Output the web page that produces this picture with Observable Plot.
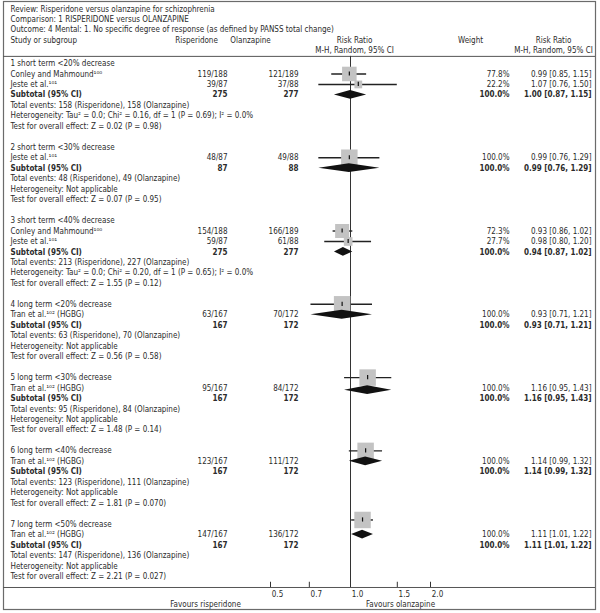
<!DOCTYPE html>
<html>
<head>
<meta charset="utf-8">
<script src="https://cdn.jsdelivr.net/npm/d3@7"></script>
<script src="https://cdn.jsdelivr.net/npm/@observablehq/plot@0.6"></script>
<style>
  html, body { margin: 0; padding: 0; background: #fff; }
  #chart { width: 600px; height: 613px; }
</style>
</head>
<body>
<div id="chart"></div>
<script>
// ---------------- data ----------------
const titleLines = [
  "Review: Risperidone versus olanzapine for schizophrenia",
  "Comparison: 1 RISPERIDONE versus OLANZAPINE",
  "Outcome: 4 Mental: 1. No specific degree of response (as defined by PANSS total change)"
];
const groupNames = [
  "1 short term <20% decrease",
  "2 short term <30% decrease",
  "3 short term <40% decrease",
  "4 long term <20% decrease",
  "5 long term <30% decrease",
  "6 long term <40% decrease",
  "7 long term <50% decrease"
];
const studyGroup   = [0, 0, 1, 2, 2, 3, 4, 5, 6];
const studyNames   = ["Conley and Mahmound¹⁰⁰", "Jeste et al.¹⁰¹", "Jeste et al.¹⁰¹", "Conley and Mahmound¹⁰⁰", "Jeste et al.¹⁰¹",
                      "Tran et al.¹⁰² (HGBG)", "Tran et al.¹⁰² (HGBG)", "Tran et al.¹⁰² (HGBG)", "Tran et al.¹⁰² (HGBG)"];
const rispEvents   = [119, 39, 48, 154, 59, 63, 95, 123, 147];
const rispTotal    = [188, 87, 87, 188, 87, 167, 167, 167, 167];
const olanEvents   = [121, 37, 49, 166, 61, 70, 84, 111, 136];
const olanTotal    = [189, 88, 88, 189, 88, 172, 172, 172, 172];
const studyWeight  = [77.8, 22.2, 100, 72.3, 27.7, 100, 100, 100, 100];
const studyRR      = [0.99, 1.07, 0.99, 0.93, 0.98, 0.93, 1.16, 1.14, 1.11];
const studyLo      = [0.85, 0.76, 0.76, 0.86, 0.80, 0.71, 0.95, 0.99, 1.01];
const studyHi      = [1.15, 1.50, 1.29, 1.02, 1.20, 1.21, 1.43, 1.32, 1.22];

const subRR        = [1.00, 0.99, 0.94, 0.93, 1.16, 1.14, 1.11];
const subLo        = [0.87, 0.76, 0.87, 0.71, 0.95, 0.99, 1.01];
const subHi        = [1.15, 1.29, 1.02, 1.21, 1.43, 1.32, 1.22];
const subRispN     = [275, 87, 275, 167, 167, 167, 167];
const subOlanN     = [277, 88, 277, 172, 172, 172, 172];
const subRispEv    = [158, 48, 213, 63, 95, 123, 147];
const subOlanEv    = [158, 49, 227, 70, 84, 111, 136];
const heterogeneity = [
  "Heterogeneity: Tau² = 0.0; Chi² = 0.16, df = 1 (P = 0.69); I² = 0.0%",
  "Heterogeneity: Not applicable",
  "Heterogeneity: Tau² = 0.0; Chi² = 0.20, df = 1 (P = 0.65); I² = 0.0%",
  "Heterogeneity: Not applicable",
  "Heterogeneity: Not applicable",
  "Heterogeneity: Not applicable",
  "Heterogeneity: Not applicable"
];
const overallZ = ["0.02", "0.07", "1.55", "0.56", "1.48", "1.81", "2.21"];
const overallP = ["0.98", "0.95", "0.12", "0.58", "0.14", "0.070", "0.027"];

const axisTicks = [0.5, 0.7, 1.0, 1.5, 2.0];
const axisTickLabels = ["0.5", "0.7", "1.0", "1.5", "2.0"];
const favours = ["Favours risperidone", "Favours olanzapine"];

// ---------------- layout (not data) ----------------
const FL = 3; // frame left (marginLeft)
const col = {label: 10, risp: 227, olan: 298, weight: 509, rr: 591,
             rispHead: 196, olanHead: 250, rrHead: 354, wHead: 470, rr2Head: 553,
             favL: 205, favR: 400};
const dxOf = px => px - FL;
// rows drawn by the reference for the marks are displaced in the lower groups
const markShift = [0, 0, 0, -1, -1, -1, -1.4];
const diamondShift = [0, 0, 0, -1, -0.8, -1, -1];

// ---------------- build rows ----------------
const fmtCI = (e, l, h) => `${e.toFixed(2)} [${l.toFixed(2)}, ${h.toFixed(2)}]`;
const rows = [];
const studyMarks = [];
const diamondPts = [];
let r = 0;
groupNames.forEach((g, gi) => {
  rows.push({row: r++, label: g, bold: false});
  studyGroup.forEach((sg, si) => {
    if (sg !== gi) return;
    rows.push({row: r, label: studyNames[si], bold: false,
      risp: `${rispEvents[si]}/${rispTotal[si]}`, olan: `${olanEvents[si]}/${olanTotal[si]}`,
      weight: `${studyWeight[si].toFixed(1)}%`, rr: fmtCI(studyRR[si], studyLo[si], studyHi[si])});
    studyMarks.push({row: r + markShift[gi], rr: studyRR[si], lo: studyLo[si], hi: studyHi[si], w: studyWeight[si]});
    r++;
  });
  rows.push({row: r, label: "Subtotal (95% CI)", bold: true,
    risp: String(subRispN[gi]), olan: String(subOlanN[gi]), weight: "100.0%",
    rr: fmtCI(subRR[gi], subLo[gi], subHi[gi])});
  const dr = r + diamondShift[gi];
  const h = 0.42;
  diamondPts.push({g: gi, x: subLo[gi], y1: dr, y2: dr});
  diamondPts.push({g: gi, x: subRR[gi], y1: dr - h, y2: dr + h});
  diamondPts.push({g: gi, x: subHi[gi], y1: dr, y2: dr});
  r++;
  rows.push({row: r++, label: `Total events: ${subRispEv[gi]} (Risperidone), ${subOlanEv[gi]} (Olanzapine)`, bold: false});
  rows.push({row: r++, label: heterogeneity[gi], bold: false});
  rows.push({row: r++, label: `Test for overall effect: Z = ${overallZ[gi]} (P = ${overallP[gi]})`, bold: false});
  r++; // blank row
});
const lastRow = r - 2;          // "Test for overall effect" of last group
const headerLine = -0.68;
const axisRow = lastRow + 1.05;

const headerRows = [
  {row: -5.2, text: titleLines[0]},
  {row: -4.25, text: titleLines[1]},
  {row: -3.3, text: titleLines[2]}
];

const font = "'Liberation Sans Narrow', 'Arial Narrow', 'DejaVu Sans Condensed', sans-serif";
const txt = "#2b2b2b";

const normalRows = rows.filter(d => !d.bold);
const boldRows = rows.filter(d => d.bold);
const valueRows = rows.filter(d => d.risp !== undefined);

const colText = (data, key, px, anchor, bold) => Plot.text(data, {
  frameAnchor: "left", y: "row", text: key, dx: dxOf(px), textAnchor: anchor,
  fill: txt, fontWeight: bold ? "bold" : "normal"
});

const chart = Plot.plot({
  width: 600,
  height: 613,
  marginLeft: FL, marginRight: 5, marginTop: 1, marginBottom: 4,
  x: {type: "log", domain: [0.5, 2], range: [270, 430], axis: null},
  y: {domain: [0, lastRow], range: [63, 576], axis: null},
  r: {type: "sqrt", domain: [0, 100], range: [0, 9.3]},
  style: {fontFamily: font, fontSize: "8px", background: "#fff", overflow: "visible"},
  marks: [
    Plot.frame({stroke: "#6b6b6b", strokeWidth: 1.2}),
    Plot.ruleY([headerLine, axisRow], {stroke: "#555", strokeWidth: 1}),
    // title / header
    Plot.text(headerRows, {frameAnchor: "left", y: "row", text: "text", dx: dxOf(col.label), textAnchor: "start", fill: txt}),
    Plot.text([{row: -2.2}], {frameAnchor: "left", y: "row", text: () => "Study or subgroup", dx: dxOf(col.label), textAnchor: "start", fill: txt}),
    Plot.text([{row: -2.2}], {frameAnchor: "left", y: "row", text: () => "Risperidone", dx: dxOf(col.rispHead), textAnchor: "middle", fill: txt}),
    Plot.text([{row: -2.2}], {frameAnchor: "left", y: "row", text: () => "Olanzapine", dx: dxOf(col.olanHead), textAnchor: "middle", fill: txt}),
    Plot.text([{row: -2.2}], {frameAnchor: "left", y: "row", text: () => "Risk Ratio", dx: dxOf(col.rrHead), textAnchor: "middle", fill: txt}),
    Plot.text([{row: -1.25}], {frameAnchor: "left", y: "row", text: () => "M-H, Random, 95% CI", dx: dxOf(col.rrHead), textAnchor: "middle", fill: txt}),
    Plot.text([{row: -2.2}], {frameAnchor: "left", y: "row", text: () => "Weight", dx: dxOf(col.wHead), textAnchor: "middle", fill: txt}),
    Plot.text([{row: -2.2}], {frameAnchor: "left", y: "row", text: () => "Risk Ratio", dx: dxOf(col.rr2Head), textAnchor: "middle", fill: txt}),
    Plot.text([{row: -1.25}], {frameAnchor: "left", y: "row", text: () => "M-H, Random, 95% CI", dx: dxOf(col.rr2Head), textAnchor: "middle", fill: txt}),
    // table body
    colText(normalRows, "label", col.label, "start", false),
    colText(boldRows, "label", col.label, "start", true),
    colText(valueRows.filter(d => !d.bold), "risp", col.risp, "end", false),
    colText(valueRows.filter(d => d.bold), "risp", col.risp, "end", true),
    colText(valueRows.filter(d => !d.bold), "olan", col.olan, "end", false),
    colText(valueRows.filter(d => d.bold), "olan", col.olan, "end", true),
    colText(valueRows.filter(d => !d.bold), "weight", col.weight, "end", false),
    colText(valueRows.filter(d => d.bold), "weight", col.weight, "end", true),
    colText(valueRows.filter(d => !d.bold), "rr", col.rr, "end", false),
    colText(valueRows.filter(d => d.bold), "rr", col.rr, "end", true),
    // line of no effect
    Plot.ruleX([1], {y1: headerLine, y2: axisRow, stroke: "#333", strokeWidth: 1}),
    // study CIs, squares, point ticks
    Plot.ruleY(studyMarks, {y: "row", x1: "lo", x2: "hi", stroke: "#222", strokeWidth: 1.4}),
    Plot.dot(studyMarks, {x: "rr", y: "row", r: "w", symbol: "square", fill: "#c3c3c3", stroke: "none"}),
    Plot.ruleX(studyMarks, {x: "rr", y1: d => d.row - 0.2, y2: d => d.row + 0.2, stroke: "#111", strokeWidth: 1.2}),
    // pooled diamonds
    Plot.areaY(diamondPts, {x: "x", y1: "y1", y2: "y2", z: "g", fill: "#111", curve: "linear"}),
    // axis
    Plot.ruleX(axisTicks, {x: d => d, y1: axisRow - 0.5, y2: axisRow, stroke: "#333"}),
    Plot.text(axisTicks, {x: d => d, y: axisRow + 0.7, text: (d, i) => axisTickLabels[i], dx: 7, fill: txt}),
    Plot.text([{row: axisRow + 1.65}], {frameAnchor: "left", y: "row", text: () => favours[0], dx: dxOf(col.favL), textAnchor: "middle", fill: txt}),
    Plot.text([{row: axisRow + 1.65}], {frameAnchor: "left", y: "row", text: () => favours[1], dx: dxOf(col.favR), textAnchor: "middle", fill: txt})
  ]
});
document.getElementById("chart").appendChild(chart);
</script>
</body>
</html>
